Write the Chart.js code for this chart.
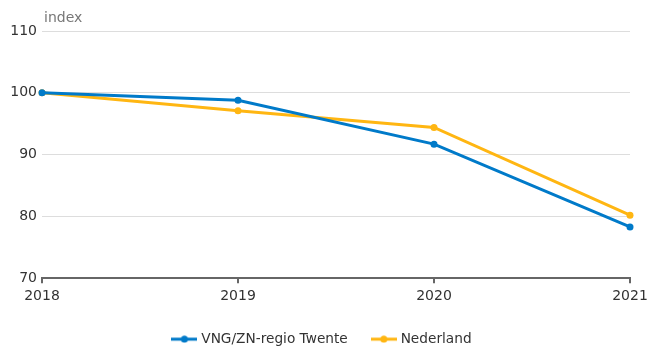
<!DOCTYPE html>
<html>
<head>
<meta charset="utf-8">
<script src="https://cdn.jsdelivr.net/npm/chart.js@4"></script>
<style>
  body { margin: 0; background: #fff; }
  #wrap { width: 650px; height: 346px; position: relative; }
</style>
</head>
<body>
<div id="wrap"><canvas id="chart"></canvas></div>
<script>
years = ["2018", "2019", "2020", "2021"];
twente = [100, 98.8, 91.7, 78.3];
nederland = [100, 97.1, 94.4, 80.2];
seriesNames = ["VNG/ZN-regio Twente", "Nederland"];
colors = ["rgb(0, 122, 201)", "rgb(255, 182, 18)"];
yTicks = [70, 80, 90, 100, 110];
axisTitle = "index";

var fontFamily = "'DejaVu Sans', Verdana, sans-serif";

function legendIcon(color) {
  var c = document.createElement("canvas");
  c.width = 26;
  c.height = 8;
  var ctx = c.getContext("2d");
  ctx.strokeStyle = color;
  ctx.lineWidth = 3;
  ctx.beginPath();
  ctx.moveTo(0, 4);
  ctx.lineTo(26, 4);
  ctx.stroke();
  ctx.fillStyle = color;
  ctx.beginPath();
  ctx.arc(13, 4, 3.5, 0, Math.PI * 2);
  ctx.fill();
  return c;
}

// small label above the y axis
const indexLabel = {
  id: "indexLabel",
  afterDraw(chart) {
    const ctx = chart.ctx;
    ctx.save();
    ctx.font = "14px " + fontFamily;
    ctx.fillStyle = "#777";
    ctx.textBaseline = "alphabetic";
    ctx.textAlign = "left";
    ctx.fillText(axisTitle, chart.chartArea.left + 2, chart.chartArea.top - 9);
    ctx.restore();
  },
};

const datasets = [twente, nederland].map((d, i) => ({
  label: seriesNames[i],
  data: d,
  borderColor: colors[i],
  backgroundColor: colors[i],
  borderWidth: 3,
  pointRadius: 3.5,
  pointBorderWidth: 0,
  pointStyle: "circle",
  legendIcon: legendIcon(colors[i]),
  tension: 0,
}));

new Chart(document.getElementById("chart"), {
  type: "line",
  data: { labels: years, datasets: datasets },
  plugins: [indexLabel],
  options: {
    responsive: true,
    maintainAspectRatio: false,
    animation: false,
    layout: { padding: { left: 0, right: 4, top: 31, bottom: -10 } },
    plugins: {
      legend: {
        position: "bottom",
        labels: {
          usePointStyle: true,
          pointStyleWidth: 20,
          color: "#333",
          font: { family: fontFamily, size: 13.7 },
          padding: 26,
          generateLabels(chart) {
            return chart.data.datasets.map((ds, i) => ({
              text: ds.label,
              pointStyle: ds.legendIcon,
              fillStyle: ds.borderColor,
              strokeStyle: ds.borderColor,
              lineWidth: 0,
              fontColor: "#333",
              hidden: false,
              datasetIndex: i,
            }));
          },
        },
      },
      tooltip: { enabled: false },
    },
    scales: {
      x: {
        offset: false,
        afterFit(scale) {
          scale.height = 28;
          scale.paddingLeft = 0;
          scale.paddingRight = 20;
        },
        grid: { drawOnChartArea: false, drawTicks: true, tickLength: 5, color: "#666", lineWidth: 2 },
        border: { display: true, color: "#666", width: 2 },
        ticks: { color: "#333", font: { family: fontFamily, size: 14 }, padding: 5, maxRotation: 0 },
      },
      y: {
        min: 70,
        max: 110,
        afterBuildTicks(scale) {
          scale.ticks = yTicks.map((v) => ({ value: v }));
        },
        afterFit(scale) {
          scale.width = 42;
          scale.paddingTop = 0;
          scale.paddingBottom = 0;
        },
        grid: { color: "#dddddd", drawTicks: false, lineWidth: 1 },
        border: { display: false },
        ticks: { color: "#333", font: { family: fontFamily, size: 14 }, padding: 5 },
      },
    },
  },
});
</script>
</body>
</html>
